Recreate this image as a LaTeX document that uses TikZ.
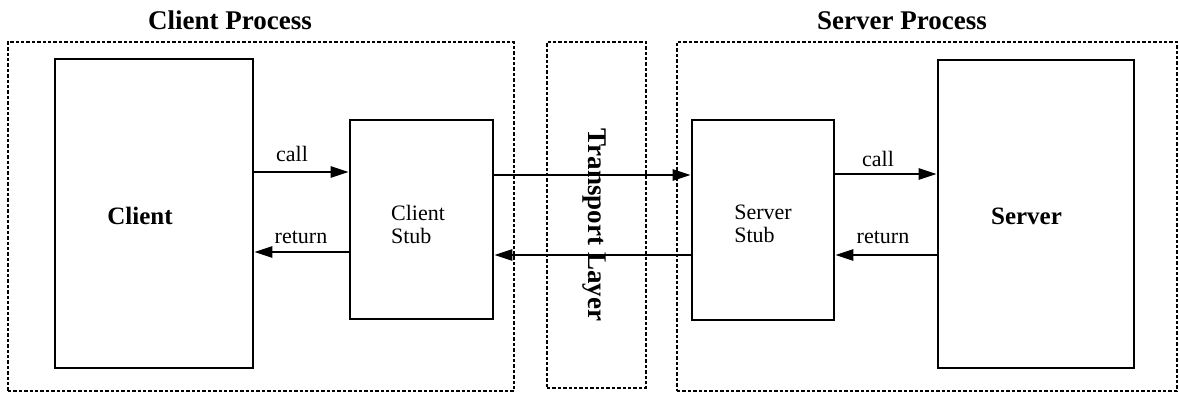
\documentclass[tikz,border=0pt]{standalone}
\usepackage{fontspec}
\setmainfont{Liberation Serif}
\usetikzlibrary{arrows.meta}
\begin{document}
\begin{tikzpicture}[x=1pt,y=-1pt,
  solidbox/.style={draw, line width=2.6pt, inner sep=0pt, minimum width=#1},
  procbox/.style={draw, line width=2.2pt, dash pattern=on 3.4pt off 2pt, inner sep=0pt},
  arr/.style={line width=2.4pt, -{Triangle[length=18pt,width=11pt]}},
  lab/.style={font=\fontsize{22}{24}\selectfont, anchor=base},
  big/.style={font=\fontsize{27}{30}\selectfont\bfseries, anchor=base},
  mid/.style={font=\fontsize{25}{28}\selectfont\bfseries, anchor=base}]
\useasboundingbox (0,0) rectangle (1179,394);
% process boxes
\node[procbox, minimum width=506pt, minimum height=349pt] (cproc) at (261,216.5) {};
\node[procbox, minimum width=99pt, minimum height=346pt] (trans) at (596.5,215) {};
\node[procbox, minimum width=500pt, minimum height=349pt] (sproc) at (927,216.5) {};
% titles
\node[big] (ctitle) at (230,29) {Client Process};
\node[big] (stitle) at (902,29) {Server Process};
% solid boxes
\node[solidbox=198pt, minimum height=309pt] (client) at (154,213.5) {};
\node[solidbox=143pt, minimum height=199pt] (cstub) at (421.5,219.5) {};
\node[solidbox=142pt, minimum height=200pt] (sstub) at (763,220) {};
\node[solidbox=196pt, minimum height=308pt] (server) at (1036,214) {};
% box texts
\node[mid] (clienttxt) at (140,224) {Client};
\node[mid] (servertxt) at (1026.5,224) {Server};
\node[font=\fontsize{22}{23}\selectfont, align=left] (cstubtxt) at (418,224) {Client\\Stub};
\node[font=\fontsize{22}{23}\selectfont, align=left] (sstubtxt) at (763,224) {Server\\Stub};
\node[big, rotate=-90] (transtxt) at (588,225) {Transport Layer};
% y levels
\coordinate (yc1) at (0,172);
\coordinate (yr1) at (0,252);
\coordinate (yt) at (0,175);
\coordinate (yb) at (0,255);
\coordinate (yc2) at (0,174);
\coordinate (yr2) at (0,255);
% arrows
\draw[arr] (client.east |- yc1) -- (cstub.west |- yc1);
\draw[arr] (cstub.west |- yr1) -- (client.east |- yr1);
\draw[arr] (cstub.east |- yt) -- (sstub.west |- yt);
\draw[arr] (sstub.west |- yb) -- (cstub.east |- yb);
\draw[arr] (sstub.east |- yc2) -- (server.west |- yc2);
\draw[arr] (server.west |- yr2) -- (sstub.east |- yr2);
% arrow labels
\node[lab] (call1) at (292,161) {call};
\node[lab] (ret1) at (301,243) {return};
\node[lab] (call2) at (878,166) {call};
\node[lab] (ret2) at (883,243) {return};
\end{tikzpicture}
\end{document}
